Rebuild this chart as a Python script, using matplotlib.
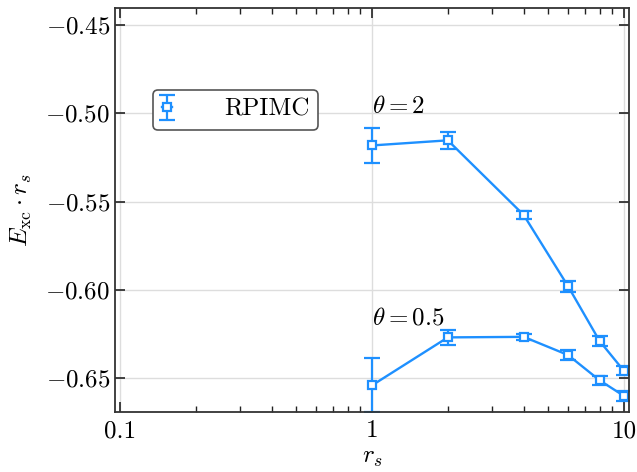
import numpy as np
import matplotlib
matplotlib.use('Agg')
from matplotlib import pyplot as plt
from matplotlib.ticker import FixedLocator, FuncFormatter, LogLocator, NullFormatter

plt.rcParams['font.family'] = 'serif'
plt.rcParams['font.serif'] = ['cmr10']
plt.rcParams['mathtext.fontset'] = 'cm'
plt.rcParams['axes.formatter.use_mathtext'] = True
plt.rcParams['axes.unicode_minus'] = True

rs = [1, 2, 4, 6, 8, 10]

e_theta2 = [-0.5182, -0.5153, -0.5576, -0.598, -0.629, -0.646]
err_theta2 = [0.010, 0.005, 0.0024, 0.0032, 0.003, 0.0026]

e_theta05 = [-0.6542, -0.627, -0.6267, -0.637, -0.6513, -0.6602]
err_theta05 = [0.0153, 0.0044, 0.0019, 0.0028, 0.0026, 0.0027]

blue = '#1E90FF'

fig = plt.figure(figsize=(6.37, 4.72), dpi=100)
ax = fig.add_axes([0.1805, 0.1271, 0.8069, 0.8559])

style = dict(color=blue, marker='s', markersize=5.5, markerfacecolor='white',
             markeredgewidth=1.6, lw=1.7, capsize=5.5, capthick=1.6, elinewidth=1.6)
ax.errorbar(rs, e_theta2, yerr=err_theta2, label='RPIMC', **style)
ax.errorbar(rs, e_theta05, yerr=err_theta05, **style)

ax.text(1, -0.5025, r'$\theta = 2$', fontsize=18, ha='left', va='bottom')
ax.text(1, -0.6225, r'$\theta = 0.5$', fontsize=18, ha='left', va='bottom')

ax.set_xscale('log')
ax.set_xlim(0.0955, 10.47)
ax.set_ylim(-0.6693, -0.4403)
ax.xaxis.set_major_locator(FixedLocator([0.1, 1, 10]))
ax.xaxis.set_major_formatter(FuncFormatter(lambda v, p: '%g' % v))
ax.xaxis.set_minor_locator(LogLocator(base=10, subs=np.arange(2, 10)))
ax.xaxis.set_minor_formatter(NullFormatter())
ax.set_yticks([-0.45, -0.50, -0.55, -0.60, -0.65])
ax.yaxis.set_major_formatter(FuncFormatter(lambda v, p: r'$%.2f$' % v))

ax.tick_params(which='both', direction='in', top=True, right=True, labelsize=18, color='#222222')
ax.tick_params(which='major', length=7, width=1.2)
ax.tick_params(which='minor', length=4, width=1.0)
ax.tick_params(axis='x', pad=6)
for s in ax.spines.values():
    s.set_linewidth(1.3)
    s.set_color('#333333')

ax.grid(True, which='major', color='#dddddd', lw=1)
ax.set_axisbelow(True)

ax.set_xlabel(r'$r_s$', fontsize=18, labelpad=3)
ax.set_ylabel(r'$E_{\rm xc} \cdot r_s$', fontsize=18, labelpad=8)

leg = ax.legend(loc='upper left', bbox_to_anchor=(0.074, 0.798), fontsize=18,
                frameon=True, fancybox=True, edgecolor='#555555', framealpha=1,
                handlelength=0.4, handletextpad=2.1, borderpad=0.35, borderaxespad=0)
leg.get_frame().set_linewidth(1.2)

fig.savefig('out.png', dpi=100)
